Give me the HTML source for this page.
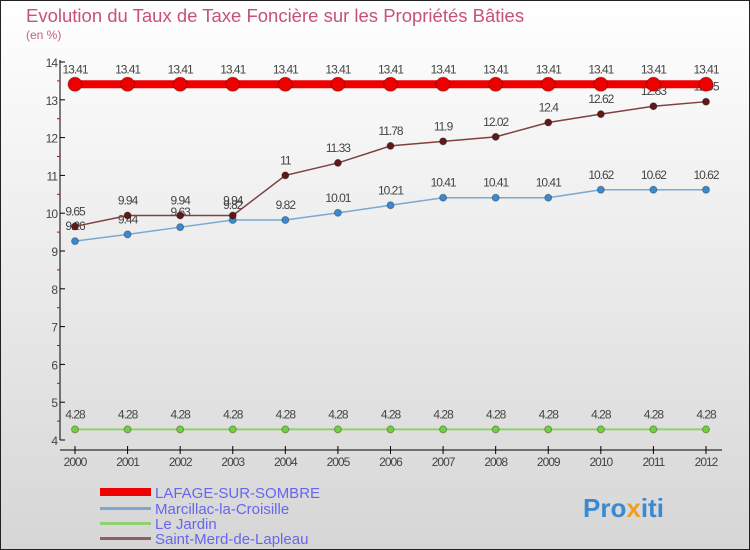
<!DOCTYPE html>
<html><head><meta charset="utf-8"><style>
body{margin:0;width:750px;height:550px;overflow:hidden;font-family:"Liberation Sans",sans-serif}
svg{display:block}
</style></head><body>
<svg width="750" height="550" xmlns="http://www.w3.org/2000/svg">
<defs><linearGradient id="bg" x1="0" y1="0" x2="0" y2="1"><stop offset="0" stop-color="#ffffff"/><stop offset="1" stop-color="#d6d6d6"/></linearGradient></defs>
<rect x="0.5" y="0.5" width="749" height="549" fill="url(#bg)" stroke="#222"/>
<text x="26" y="22" font-size="18.5" fill="#c8507a">Evolution du Taux de Taxe Foncière sur les Propriétés Bâties</text>
<text x="26" y="39" font-size="12" fill="#c0608a">(en %)</text>
<g id="axes"></g>
<g id="series"></g>
<g id="legend">
<rect x="100" y="488" width="51" height="8" fill="#e00"/>
<text x="155" y="498" font-size="15" fill="#6666ee">LAFAGE-SUR-SOMBRE</text>
<rect x="100" y="507" width="51" height="3" fill="#7aa8d0"/>
<text x="155" y="514" font-size="15" fill="#6666ee">Marcillac-la-Croisille</text>
<rect x="100" y="522" width="51" height="3" fill="#90d070"/>
<text x="155" y="529" font-size="15" fill="#6666ee">Le Jardin</text>
<rect x="100" y="537" width="51" height="3" fill="#906060"/>
<text x="155" y="544" font-size="15" fill="#6666ee">Saint-Merd-de-Lapleau</text>
</g>
<text x="583" y="517" font-size="26" font-weight="bold" fill="#3a8ad0">Pro<tspan fill="#f0a020">x</tspan>iti</text>
</svg>
<script>
const years=[2000,2001,2002,2003,2004,2005,2006,2007,2008,2009,2010,2011,2012];
const yTicks=[4,5,6,7,8,9,10,11,12,13,14];
const lafage=[13.41,13.41,13.41,13.41,13.41,13.41,13.41,13.41,13.41,13.41,13.41,13.41,13.41];
const marcillac=[9.26,9.44,9.63,9.82,9.82,10.01,10.21,10.41,10.41,10.41,10.62,10.62,10.62];
const jardin=[4.28,4.28,4.28,4.28,4.28,4.28,4.28,4.28,4.28,4.28,4.28,4.28,4.28];
const merd=[9.65,9.94,9.94,9.94,11,11.33,11.78,11.9,12.02,12.4,12.62,12.83,12.95];
const NS="http://www.w3.org/2000/svg";
const x=i=>75+i*(706-75)/(years.length-1);
const y=v=>440-(v-4)*(440-62)/10;
function mk(t,a,p){const e=document.createElementNS(NS,t);for(const k in a)e.setAttribute(k,a[k]);p.appendChild(e);return e;}
const ax=document.getElementById('axes');
let l=mk('line',{x1:60,y1:60,x2:60,y2:440,stroke:'#000'},ax);


l=mk('line',{x1:60,y1:450,x2:722,y2:450,stroke:'#000'},ax);


yTicks.forEach(v=>{mk('line',{x1:60,y1:y(v),x2:65,y2:y(v),stroke:'#000'},ax);
 if(v<14)mk('line',{x1:57,y1:y(v+0.5),x2:60,y2:y(v+0.5),stroke:'#d00'},ax);
 const t=mk('text',{x:57,y:y(v)+5,'font-size':12,fill:'#444','text-anchor':'end','letter-spacing':'-1'},ax);t.textContent=v;
 
 });
years.forEach((yr,i)=>{mk('line',{x1:x(i),y1:446,x2:x(i),y2:454,stroke:'#000'},ax);
 const t=mk('text',{x:x(i),y:466,'font-size':12,fill:'#444','text-anchor':'middle','letter-spacing':'-1'},ax);t.textContent=yr;
 
 });
const sg=document.getElementById('series');
function series(d,name,col,w,dot,r){
 const p=mk('polyline',{points:d.map((v,i)=>x(i)+','+y(v)).join(' '),fill:'none',stroke:col,'stroke-width':w},sg);
 
 
 d.forEach((v,i)=>{const c=mk('circle',{cx:x(i),cy:y(v),r:r,fill:dot,stroke:'rgba(0,0,0,0.3)'},sg);
  
  
  const t=mk('text',{x:x(i),y:y(v)-11,'font-size':12,fill:'#444','text-anchor':'middle','letter-spacing':'-1'},sg);
  t.textContent=String(v);
  
  });
}
series(jardin,'le-jardin','#90d070',2,'#70d040',3.5);
series(marcillac,'marcillac','#7aa8d0',1.5,'#3a8ad0',3.5);
series(merd,'saint-merd','#804040',1.5,'#601818',3.5);
series(lafage,'lafage','#e00',8,'#e00',7);
</script>
</body></html>
